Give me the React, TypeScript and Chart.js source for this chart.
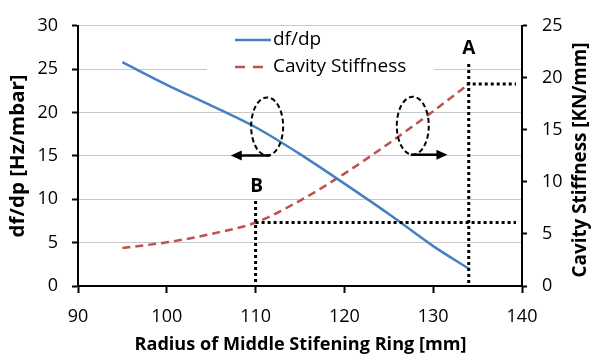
import React, { useEffect, useRef } from 'react';
import { Chart, registerables } from 'chart.js';

Chart.register(...registerables);

// ---- data ----
const radius = [95, 100, 105, 110, 115, 120, 125, 130, 134];
const dfdp = [25.8, 23.2, 20.8, 18.3, 15.2, 11.8, 8.3, 4.6, 2.0];
const stiffness = [3.65, 4.2, 5.0, 6.1, 8.2, 10.8, 13.7, 16.8, 19.4];
const xRange = [90, 140];
const leftRange = [0, 30];
const rightRange = [0, 25];
const tickStep = [10, 5, 5];
const seriesNames = ['df/dp', 'Cavity Stiffness'];
const xTitle = 'Radius of Middle Stifening Ring [mm]';
const leftTitle = 'df/dp [Hz/mbar]';
const rightTitle = 'Cavity Stiffness [KN/mm]';
// annotation markers (data units): A = last stiffness point, B = stiffness at 110 mm
const markerA = { label: 'A', x: radius[radius.length - 1], y: stiffness[stiffness.length - 1] };
const markerB = { label: 'B', x: 110, y: stiffness[radius.indexOf(110)] };
// ellipse callouts (data units): left one marks df/dp, right one marks stiffness
const ellipseLeft = { x: 111.3, y: 18.4, axis: 'y', arrowTo: 107.2 };
const ellipseRight = { x: 127.7, y: 15.4, axis: 'y1', arrowTo: 131.6 };

const BLUE = '#4680C2';
const RED = '#C0504D';
const FONT = '"Open Sans", "DejaVu Sans", sans-serif';

function arrow(ctx: CanvasRenderingContext2D, x1: number, y: number, x2: number) {
  const dir = Math.sign(x2 - x1);
  ctx.save();
  ctx.setLineDash([]);
  ctx.strokeStyle = '#000';
  ctx.fillStyle = '#000';
  ctx.lineWidth = 2.5;
  ctx.beginPath();
  ctx.moveTo(x1, y);
  ctx.lineTo(x2 - dir * 8, y);
  ctx.stroke();
  ctx.beginPath();
  ctx.moveTo(x2, y);
  ctx.lineTo(x2 - dir * 11, y - 5);
  ctx.lineTo(x2 - dir * 11, y + 5);
  ctx.closePath();
  ctx.fill();
  ctx.restore();
}

function fittedText(ctx: CanvasRenderingContext2D, text: string, x: number, y: number, angle: number, length: number) {
  ctx.save();
  ctx.translate(x, y);
  ctx.rotate(angle);
  const w = ctx.measureText(text).width;
  ctx.scale(length / w, 1);
  ctx.fillText(text, 0, 0);
  ctx.restore();
}

const overlay = {
  id: 'overlay',
  beforeDatasetsDraw(chart: any) {
    const ctx: CanvasRenderingContext2D = chart.ctx;
    ctx.save();
    // legend box
    ctx.fillStyle = '#fff';
    ctx.fillRect(207, 27, 227, 54);
    ctx.lineWidth = 2.5;
    ctx.strokeStyle = BLUE;
    ctx.beginPath();
    ctx.moveTo(235, 40);
    ctx.lineTo(271, 40);
    ctx.stroke();
    ctx.strokeStyle = RED;
    ctx.setLineDash([10, 8]);
    ctx.beginPath();
    ctx.moveTo(235, 67);
    ctx.lineTo(263, 67);
    ctx.stroke();
    ctx.setLineDash([]);
    ctx.fillStyle = '#000';
    ctx.font = `19px ${FONT}`;
    ctx.textBaseline = 'middle';
    ctx.textAlign = 'left';
    ctx.fillText(seriesNames[0], 273, 40);
    ctx.fillText(seriesNames[1], 273, 67);
    ctx.restore();
  },
  afterDatasetsDraw(chart: any) {
    const ctx: CanvasRenderingContext2D = chart.ctx;
    const xs = chart.scales.x;
    const y1 = chart.scales.y1;
    const area = chart.chartArea;
    ctx.save();
    // dotted guide lines
    ctx.strokeStyle = '#000';
    ctx.lineWidth = 3;
    ctx.setLineDash([3, 3]);
    const ax = xs.getPixelForValue(markerA.x);
    const ay = y1.getPixelForValue(markerA.y);
    const bx = xs.getPixelForValue(markerB.x);
    const by = y1.getPixelForValue(markerB.y);
    ctx.beginPath();
    ctx.moveTo(ax, 64);
    ctx.lineTo(ax, area.bottom);
    ctx.moveTo(ax - 2, ay);
    ctx.lineTo(area.right - 6, ay);
    ctx.moveTo(bx, 201);
    ctx.lineTo(bx, area.bottom);
    ctx.moveTo(bx, by);
    ctx.lineTo(area.right - 6, by);
    ctx.stroke();
    ctx.setLineDash([]);
    ctx.fillStyle = '#000';
    ctx.font = `bold 19px ${FONT}`;
    ctx.textAlign = 'center';
    ctx.textBaseline = 'middle';
    ctx.fillText(markerA.label, ax, 49);
    ctx.fillText(markerB.label, bx + 1, 187);
    // ellipses + arrows
    for (const e of [ellipseLeft, ellipseRight]) {
      const cx = xs.getPixelForValue(e.x);
      const cy = chart.scales[e.axis].getPixelForValue(e.y);
      ctx.lineWidth = 2;
      ctx.setLineDash([5, 3]);
      ctx.beginPath();
      ctx.ellipse(cx, cy, 16, 29, 0, 0, Math.PI * 2);
      ctx.stroke();
      ctx.setLineDash([]);
      const start = e === ellipseLeft ? cx + 3 : cx - 2;
      arrow(ctx, start, cy + 29, xs.getPixelForValue(e.arrowTo));
    }
    ctx.restore();
  },
  afterDraw(chart: any) {
    const ctx: CanvasRenderingContext2D = chart.ctx;
    const area = chart.chartArea;
    const cy = (area.top + area.bottom) / 2;
    ctx.save();
    ctx.fillStyle = '#000';
    ctx.font = `bold 18px ${FONT}`;
    ctx.textAlign = 'center';
    ctx.textBaseline = 'middle';
    fittedText(ctx, xTitle, (area.left + area.right) / 2 + 0.5, 345, 0, 332);
    ctx.font = `bold 19px ${FONT}`;
    fittedText(ctx, leftTitle, 19, cy, -Math.PI / 2, 163);
    fittedText(ctx, rightTitle, 581, 160, -Math.PI / 2, 235);
    ctx.restore();
  },
};

export default function App() {
  const ref = useRef<HTMLCanvasElement>(null);
  useEffect(() => {
    if (!ref.current) return;
    const tickFont = { family: FONT, size: 18 };
    const chart = new Chart(ref.current, {
      type: 'line',
      data: {
        datasets: [
          {
            label: seriesNames[0],
            data: radius.map((x, i) => ({ x, y: dfdp[i] })),
            borderColor: BLUE,
            borderWidth: 2.5,
            pointRadius: 0,
            cubicInterpolationMode: 'monotone',
            yAxisID: 'y',
          },
          {
            label: seriesNames[1],
            data: radius.map((x, i) => ({ x, y: stiffness[i] })),
            borderColor: RED,
            borderWidth: 2.5,
            borderDash: [8, 5],
            pointRadius: 0,
            cubicInterpolationMode: 'monotone',
            yAxisID: 'y1',
          },
        ],
      },
      options: {
        animation: false,
        responsive: false,
        events: [],
        layout: { padding: { top: 17, left: 0, right: 0, bottom: 0 } },
        plugins: { legend: { display: false }, tooltip: { enabled: false } },
        scales: {
          x: {
            type: 'linear',
            min: xRange[0],
            max: xRange[1],
            ticks: { stepSize: tickStep[0], color: '#000', font: tickFont, padding: 13 },
            grid: { drawOnChartArea: false, drawTicks: true, tickLength: 7, tickColor: '#000', tickWidth: 2 },
            border: { color: '#000', width: 2 },
            afterFit: (s: any) => { s.height = 73; },
          },
          y: {
            type: 'linear',
            position: 'left',
            min: leftRange[0],
            max: leftRange[1],
            ticks: { stepSize: tickStep[1], color: '#000', font: tickFont, padding: 14 },
            grid: { color: '#C8C8C8', lineWidth: 1, drawTicks: true, tickLength: 6, tickColor: '#000', tickWidth: 2 },
            border: { color: '#000', width: 2 },
            afterFit: (s: any) => { s.width = 78; },
          },
          y1: {
            type: 'linear',
            position: 'right',
            min: rightRange[0],
            max: rightRange[1],
            ticks: { stepSize: tickStep[2], color: '#000', font: tickFont, padding: 15 },
            grid: { drawOnChartArea: false, drawTicks: true, tickLength: 5, tickColor: '#000', tickWidth: 2 },
            border: { color: '#000', width: 2 },
            afterFit: (s: any) => { s.width = 72; },
          },
        },
      },
      plugins: [overlay],
    });
    return () => chart.destroy();
  }, []);
  return (
    <div style={{ position: 'absolute', left: 0, top: 0, width: 594, height: 359, background: '#fff' }}>
      <canvas ref={ref} width={594} height={359} />
    </div>
  );
}
